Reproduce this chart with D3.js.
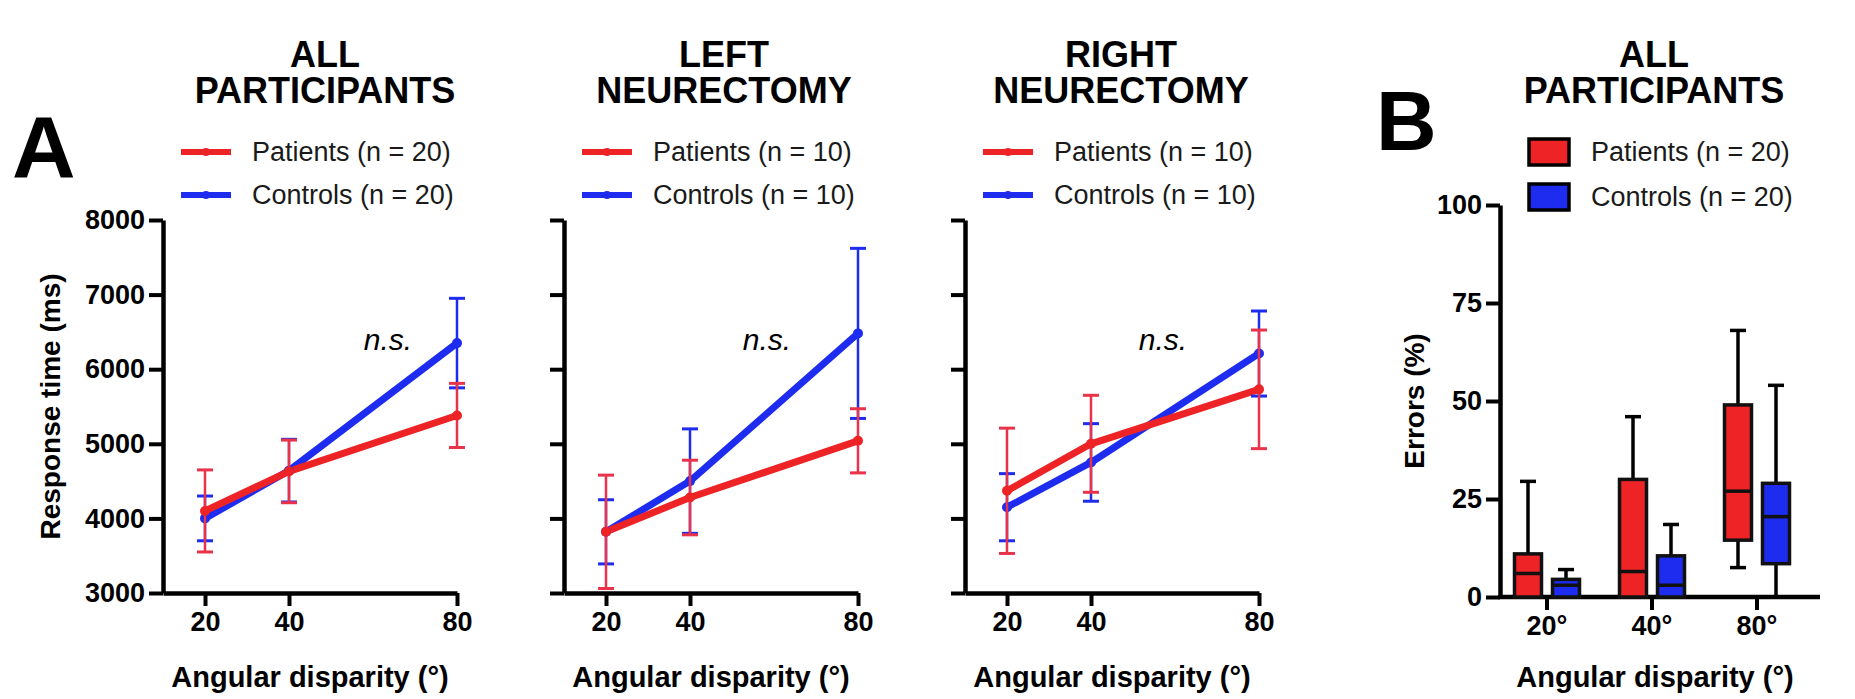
<!DOCTYPE html>
<html>
<head>
<meta charset="utf-8">
<script src="https://cdn.jsdelivr.net/npm/d3@7"></script>
<style>
  html, body { margin: 0; padding: 0; background: #fff; }
  svg { display: block; font-family: "Liberation Sans", Arial, sans-serif; }
</style>
</head>
<body>
<svg id="chart" width="1855" height="699"></svg>
<script>
// ---------------- DATA ----------------
const angles = [20, 40, 80];
const panelTitlesA = [["ALL", "PARTICIPANTS"], ["LEFT", "NEURECTOMY"], ["RIGHT", "NEURECTOMY"]];
const patientsN = [20, 10, 10];
const controlsN = [20, 10, 10];
// mean response time (ms) per panel, per angle
const patientsMean = [[4100, 4630, 5380], [3820, 4280, 5040], [4370, 5000, 5730]];
const patientsErr  = [[550, 420, 430], [760, 500, 430], [840, 650, 795]];
const controlsMean = [[4000, 4640, 6350], [3820, 4500, 6480], [4150, 4750, 6210]];
const controlsErr  = [[300, 420, 600], [430, 700, 1140], [450, 520, 570]];
const yTicksA = [3000, 4000, 5000, 6000, 7000, 8000];
const xTicksA = [20, 40, 80];
const nsLabel = "n.s.";

// Panel B: box plots of errors (%) : [min, q1, median, q3, max]
const boxCategories = ["20°", "40°", "80°"];
const patientsBox = [[0, 0, 6, 11, 29.5], [0, 0, 6.5, 30, 46], [7.5, 14.5, 27, 49, 68]];
const controlsBox = [[0, 0, 3, 4.5, 7], [0, 0, 3, 10.5, 18.5], [0, 8.5, 20.5, 29, 54]];
const yTicksB = [0, 25, 50, 75, 100];
const titleB = ["ALL", "PARTICIPANTS"];

// ---------------- LAYOUT ----------------
const RED = "#ee2326", BLUE = "#1e2cef", RED_ERR = "#e8334a";
const A_LEFT = [163, 564, 965], A_W = 294, A_TOP = 220, A_BOTTOM = 593;
const TITLE_X = [325, 724, 1121];
const NS_X = [388, 767, 1163], NS_Y = 350;
const B_LEFT = 1500, B_RIGHT = 1820, B_TOP = 205, B_BOTTOM = 597;
const AXIS_W = 4.5;

const svg = d3.select("#chart");

function styleAxis(g, fs) {
  g.select(".domain").attr("stroke", "#000").attr("stroke-width", AXIS_W);
  g.selectAll(".tick line").attr("stroke", "#000").attr("stroke-width", 4);
  g.selectAll(".tick text").attr("fill", "#000").attr("font-size", fs)
    .attr("font-weight", "bold").attr("font-family", "Liberation Sans, Arial, sans-serif");
}

function title(lines, cx) {
  const t = svg.append("text").attr("text-anchor", "middle")
    .attr("font-size", 36).attr("font-weight", "bold");
  t.append("tspan").attr("x", cx).attr("y", 67).text(lines[0]);
  t.append("tspan").attr("x", cx).attr("y", 103).text(lines[1]);
}

// panel letters
svg.append("text").attr("x", 12).attr("y", 177).attr("font-size", 88)
  .attr("font-weight", "bold").text("A");
svg.append("text").attr("x", 1376).attr("y", 150).attr("font-size", 84)
  .attr("font-weight", "bold").text("B");

// ---------------- PANEL A ----------------
const yA = d3.scaleLinear().domain([3000, 8000]).range([A_BOTTOM, A_TOP]);

A_LEFT.forEach((left, p) => {
  const x = d3.scaleLinear().domain([10, 80]).range([left, left + A_W]);
  title(panelTitlesA[p], TITLE_X[p]);

  // legend
  const legend = [
    { label: `Patients (n = ${patientsN[p]})`, color: RED, y: 152 },
    { label: `Controls (n = ${controlsN[p]})`, color: BLUE, y: 195 }
  ];
  legend.forEach(l => {
    svg.append("line").attr("x1", left + 18).attr("x2", left + 68)
      .attr("y1", l.y).attr("y2", l.y).attr("stroke", l.color).attr("stroke-width", 6);
    svg.append("circle").attr("cx", left + 43).attr("cy", l.y).attr("r", 4).attr("fill", l.color);
    svg.append("text").attr("x", left + 89).attr("y", l.y + 9).attr("font-size", 27)
      .attr("fill", "#1a1a1a").text(l.label);
  });

  // axes
  const gy = svg.append("g").attr("transform", `translate(${left},0)`)
    .call(d3.axisLeft(yA).tickValues(yTicksA).tickSize(14).tickSizeOuter(0).tickPadding(4)
      .tickFormat(p === 0 ? d3.format("d") : () => ""));
  styleAxis(gy, 27);
  const gx = svg.append("g").attr("transform", `translate(0,${A_BOTTOM})`)
    .call(d3.axisBottom(x).tickValues(xTicksA).tickSize(13).tickSizeOuter(0).tickPadding(6)
      .tickFormat(d3.format("d")));
  styleAxis(gx, 27);

  svg.append("text").attr("x", left + A_W / 2).attr("y", 687).attr("text-anchor", "middle")
    .attr("font-size", 29).attr("font-weight", "bold").text("Angular disparity (°)");

  const series = [
    { mean: controlsMean[p], err: controlsErr[p], color: BLUE, errColor: BLUE },
    { mean: patientsMean[p], err: patientsErr[p], color: RED, errColor: RED_ERR }
  ];
  const line = d3.line().x((d, i) => x(angles[i])).y(d => yA(d));
  series.forEach(s => {
    svg.append("path").datum(s.mean).attr("d", line).attr("fill", "none")
      .attr("stroke", s.color).attr("stroke-width", 7).attr("stroke-linejoin", "round");
  });
  series.forEach(s => {
    s.mean.forEach((m, i) => {
      const cx = x(angles[i]);
      const lo = yA(Math.max(3000, m - s.err[i])), hi = yA(m + s.err[i]);
      svg.append("line").attr("x1", cx).attr("x2", cx).attr("y1", lo).attr("y2", hi)
        .attr("stroke", s.errColor).attr("stroke-width", 2.5);
      [m - s.err[i], m + s.err[i]].forEach(v => {
        if (v < 3000) return;
        svg.append("line").attr("x1", cx - 8).attr("x2", cx + 8).attr("y1", yA(v)).attr("y2", yA(v))
          .attr("stroke", s.errColor).attr("stroke-width", 3);
      });
      svg.append("circle").attr("cx", cx).attr("cy", yA(m)).attr("r", 5).attr("fill", s.color);
    });
  });

  svg.append("text").attr("x", NS_X[p]).attr("y", NS_Y).attr("text-anchor", "middle")
    .attr("font-size", 30).attr("font-style", "italic").text(nsLabel);
});

svg.append("text").attr("transform", `translate(60,${(A_TOP + A_BOTTOM) / 2}) rotate(-90)`)
  .attr("text-anchor", "middle").attr("font-size", 28).attr("font-weight", "bold")
  .text("Response time (ms)");

// ---------------- PANEL B ----------------
title(titleB, 1654);
const yB = d3.scaleLinear().domain([0, 100]).range([B_BOTTOM, B_TOP]);
const xB = d3.scaleBand().domain(boxCategories).range([1494.5, 1809.5]);

// legend
[{ label: "Patients (n = 20)", color: RED, y: 152 }, { label: "Controls (n = 20)", color: BLUE, y: 197 }]
  .forEach(l => {
    svg.append("rect").attr("x", 1529).attr("y", l.y - 13).attr("width", 40).attr("height", 26)
      .attr("fill", l.color).attr("stroke", "#000").attr("stroke-width", 3.5);
    svg.append("text").attr("x", 1591).attr("y", l.y + 9).attr("font-size", 27)
      .attr("fill", "#1a1a1a").text(l.label);
  });

const gyB = svg.append("g").attr("transform", `translate(${B_LEFT},0)`)
  .call(d3.axisLeft(yB).tickValues(yTicksB).tickSize(14).tickSizeOuter(0).tickPadding(4));
styleAxis(gyB, 27);
const gxB = svg.append("g").attr("transform", `translate(0,${B_BOTTOM})`)
  .call(d3.axisBottom(xB).tickSize(13).tickSizeOuter(0).tickPadding(6));
gxB.select(".domain").remove();
styleAxis(gxB, 27);
svg.append("line").attr("x1", B_LEFT - 2).attr("x2", B_RIGHT).attr("y1", B_BOTTOM).attr("y2", B_BOTTOM)
  .attr("stroke", "#000").attr("stroke-width", AXIS_W);

svg.append("text").attr("transform", `translate(1424,${(B_TOP + B_BOTTOM) / 2}) rotate(-90)`)
  .attr("text-anchor", "middle").attr("font-size", 28).attr("font-weight", "bold").text("Errors (%)");
svg.append("text").attr("x", 1655).attr("y", 687).attr("text-anchor", "middle")
  .attr("font-size", 29).attr("font-weight", "bold").text("Angular disparity (°)");

const boxW = 27, offset = 19;
[{ data: patientsBox, color: RED, dx: -offset }, { data: controlsBox, color: BLUE, dx: offset }]
  .forEach(s => {
    s.data.forEach((b, i) => {
      const cx = xB(boxCategories[i]) + xB.bandwidth() / 2 + s.dx;
      const [mn, q1, md, q3, mx] = b;
      svg.append("line").attr("x1", cx).attr("x2", cx).attr("y1", yB(q3)).attr("y2", yB(mx))
        .attr("stroke", "#000").attr("stroke-width", 3.5);
      svg.append("line").attr("x1", cx - 8).attr("x2", cx + 8).attr("y1", yB(mx)).attr("y2", yB(mx))
        .attr("stroke", "#000").attr("stroke-width", 3.5);
      if (q1 > mn) {
        svg.append("line").attr("x1", cx).attr("x2", cx).attr("y1", yB(mn)).attr("y2", yB(q1))
          .attr("stroke", "#000").attr("stroke-width", 3.5);
        svg.append("line").attr("x1", cx - 8).attr("x2", cx + 8).attr("y1", yB(mn)).attr("y2", yB(mn))
          .attr("stroke", "#000").attr("stroke-width", 3.5);
      }
      svg.append("rect").attr("x", cx - boxW / 2).attr("y", yB(q3)).attr("width", boxW)
        .attr("height", yB(q1) - yB(q3)).attr("fill", s.color).attr("stroke", "#111").attr("stroke-width", 3.5);
      svg.append("line").attr("x1", cx - boxW / 2).attr("x2", cx + boxW / 2).attr("y1", yB(md)).attr("y2", yB(md))
        .attr("stroke", "#111").attr("stroke-width", 3.5);
    });
  });
</script>
</body>
</html>
